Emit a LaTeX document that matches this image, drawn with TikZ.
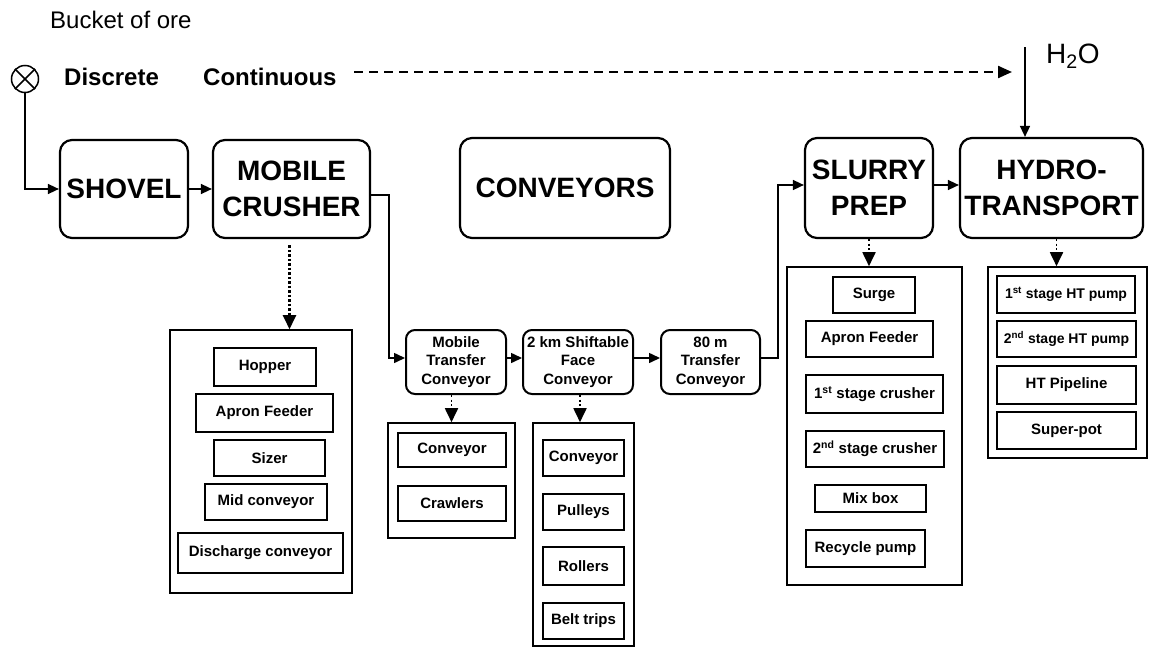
\documentclass[tikz,border=0pt]{standalone}
\usepackage{fontspec}
\setmainfont{Liberation Sans}
\usetikzlibrary{arrows.meta}
\tikzset{
 mainbox/.style={draw, line width=2.2pt, rounded corners=12pt, align=center, inner sep=0pt, font=\fontsize{28}{36}\selectfont\bfseries},
 convbox/.style={draw, line width=2pt, rounded corners=9pt, align=center, inner sep=0pt, font=\fontsize{15}{18.5}\selectfont\bfseries},
 grp/.style={draw, line width=1.6pt, inner sep=0pt},
 item/.style={draw, line width=2pt, inner sep=0pt, font=\fontsize{15}{18}\selectfont\bfseries},
 flow/.style={line width=1.5pt, -{Triangle[length=11pt,width=10pt]}},
 sub/.style={line width=1.8pt, dash pattern=on 2pt off 2.5pt, -{Triangle[length=14pt,width=13pt]}},
 lbl/.style={inner sep=0pt, anchor=west},
}
\begin{document}
\begin{tikzpicture}[x=1pt,y=-1pt]
\useasboundingbox[fill=white] (0,0) rectangle (1151,648);

% top labels
\node[lbl, font=\fontsize{24}{28}\selectfont] (bucketlbl) at (50,20) {Bucket of ore};
\node[draw, circle, line width=1.5pt, minimum size=27pt, inner sep=0pt] (bucket) at (25,79) {};
\draw[line width=1.5pt] (bucket.45) -- (bucket.225) (bucket.135) -- (bucket.315);
\node[lbl, font=\fontsize{24}{28}\selectfont\bfseries] (discrete) at (64,77) {Discrete};
\node[lbl, font=\fontsize{24}{28}\selectfont\bfseries] (continuous) at (203,77) {Continuous};
\coordinate (dashstart) at (354,72);
\coordinate (dashend) at (1012,72);
\draw[line width=2.2pt, dash pattern=on 9pt off 6pt, -{Triangle[length=14pt,width=12pt]}] (dashstart) -- (dashend);
\node[lbl, font=\fontsize{28}{32}\selectfont] (h2o) at (1046,56) {H\textsubscript{2}O};
\coordinate (h2otop) at (1025,47);

% main boxes
\node[mainbox, minimum width=128, minimum height=98] (shovel) at (124,189) {SHOVEL};
\node[mainbox, minimum width=157, minimum height=98] (crusher) at (291.5,189) {MOBILE\\CRUSHER};
\node[mainbox, minimum width=210, minimum height=100] (conveyors) at (565,188) {CONVEYORS};
\node[mainbox, minimum width=128, minimum height=100] (slurry) at (869,188) {SLURRY\\PREP};
\node[mainbox, minimum width=183, minimum height=100] (hydro) at (1051.5,188) {HYDRO-\\TRANSPORT};

% conveyor boxes
\node[convbox, minimum width=100, minimum height=64] (mtc) at (456,362) {Mobile\\Transfer\\Conveyor};
\node[convbox, minimum width=110, minimum height=64] (sfc) at (578,362) {2 km Shiftable\\Face\\Conveyor};
\node[convbox, minimum width=99, minimum height=64] (tc) at (710.5,362) {80 m\\Transfer\\Conveyor};

% main flow
\draw[flow] (bucket.south) |- (shovel.west);
\draw[flow] (shovel.east) -- (crusher.west);
\draw[flow] ([yshift=-6pt]crusher.east) -- ++(18,0) |- ([yshift=4pt]mtc.west);
\draw[flow] ([yshift=4pt]mtc.east) -- ([yshift=4pt]sfc.west);
\draw[flow] ([yshift=4pt]sfc.east) -- ([yshift=4pt]tc.west);
\draw[flow] ([yshift=4pt]tc.east) -- ++(17,0) |- ([yshift=3pt]slurry.west);
\draw[flow] ([yshift=3pt]slurry.east) -- ([yshift=3pt]hydro.west);
\draw[flow] (h2otop) -- (h2otop |- hydro.north);

% mobile crusher group
\node[grp, minimum width=182, minimum height=263] (cg) at (261,461.5) {};
\node[item, minimum width=102, minimum height=38] (hopper) at (265,367) {Hopper};
\node[item, minimum width=137, minimum height=38] (apron1) at (264.5,413) {Apron Feeder};
\node[item, minimum width=111, minimum height=36] (sizer) at (269.5,458) {Sizer};
\node[item, minimum width=122, minimum height=36] (midconv) at (266,502) {Mid conveyor};
\node[item, minimum width=165, minimum height=40] (discharge) at (260.5,553) {Discharge conveyor};
\draw[sub, line width=2.4pt, dash pattern=on 2.5pt off 2pt, shorten <=6pt] ([xshift=-2pt]crusher.south) -- ([xshift=-2pt]crusher.south |- cg.north);

% mobile transfer conveyor group
\node[grp, minimum width=127, minimum height=115] (mg) at (451.5,480.5) {};
\node[item, minimum width=108, minimum height=34] (mconv) at (452,450) {Conveyor};
\node[item, minimum width=108, minimum height=35] (crawlers) at (452,503.5) {Crawlers};
\draw[sub] (mtc.south -| mg.north) -- (mg.north);

% shiftable face conveyor group
\node[grp, minimum width=101, minimum height=223] (sg) at (583.5,534.5) {};
\node[item, minimum width=81, minimum height=36] (sconv) at (583.5,458) {Conveyor};
\node[item, minimum width=81, minimum height=36] (pulleys) at (583.5,512) {Pulleys};
\node[item, minimum width=81, minimum height=38] (rollers) at (583.5,566) {Rollers};
\node[item, minimum width=81, minimum height=36] (belt) at (583.5,621) {Belt trips};
\draw[sub] ([xshift=2pt]sfc.south) -- ([xshift=2pt]sfc.south |- sg.north);

% slurry prep group
\node[grp, minimum width=175, minimum height=318] (pg) at (874.5,426) {};
\node[item, minimum width=82, minimum height=36] (surge) at (874,295) {Surge};
\node[item, minimum width=127, minimum height=36] (apron2) at (869.5,339) {Apron Feeder};
\node[item, minimum width=137, minimum height=38] (crush1) at (874.5,394) {1\textsuperscript{st} stage crusher};
\node[item, minimum width=138, minimum height=36] (crush2) at (875,449) {2\textsuperscript{nd} stage crusher};
\node[item, minimum width=111, minimum height=27] (mix) at (870.5,498.5) {Mix box};
\node[item, minimum width=119, minimum height=37] (recycle) at (865.5,548.5) {Recycle pump};
\draw[sub] (slurry.south) -- (slurry.south |- pg.north);

% hydrotransport group
\node[grp, minimum width=159, minimum height=191] (hg) at (1067.5,362.5) {};
\node[item, minimum width=138, minimum height=37, font=\fontsize{14}{17}\selectfont\bfseries] (pump1) at (1066,294.5) {1\textsuperscript{st} stage HT pump};
\node[item, minimum width=139, minimum height=36, font=\fontsize{14}{17}\selectfont\bfseries] (pump2) at (1066.5,339) {2\textsuperscript{nd} stage HT pump};
\node[item, minimum width=139, minimum height=38] (pipe) at (1066.5,385) {HT Pipeline};
\node[item, minimum width=139, minimum height=37] (superpot) at (1066.5,430.5) {Super-pot};
\draw[sub] ([xshift=5pt]hydro.south) -- ([xshift=5pt]hydro.south |- hg.north);
\end{tikzpicture}
\end{document}
